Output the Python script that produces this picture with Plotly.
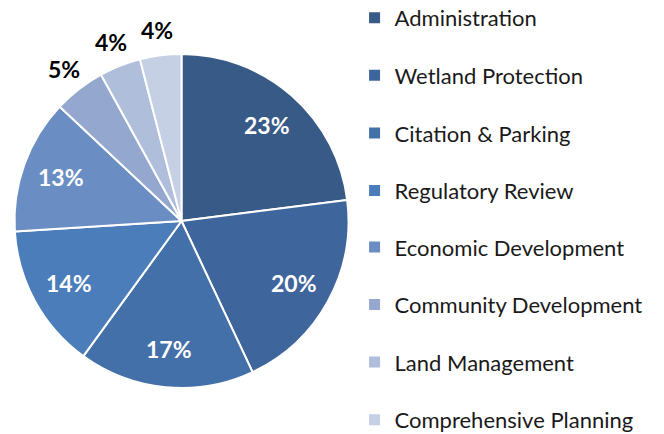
import math
import plotly.graph_objects as go

labels = ["Administration", "Wetland Protection", "Citation & Parking", "Regulatory Review",
          "Economic Development", "Community Development", "Land Management", "Comprehensive Planning"]
values = [23, 20, 17, 14, 13, 5, 4, 4]
colors = ["#385A86", "#3E659C", "#4470A9", "#4A7DBA", "#6A8EC3", "#93A7CF", "#AEBEDB", "#C6D0E5"]

W, H = 664, 434
cx, cy, R = 181.5, 221.0, 167.0

fig = go.Figure()
fig.add_trace(go.Pie(
    labels=labels, values=values, sort=False, direction="clockwise", rotation=0,
    marker=dict(colors=colors, line=dict(color="white", width=2)),
    textinfo="none", hoverinfo="label+percent", showlegend=False,
    domain=dict(x=[(cx - R) / W, (cx + R) / W], y=[1 - (cy + R) / H, 1 - (cy - R) / H]),
))

# dummy traces for legend with spacing (split across two legends)
for i, (lab, col) in enumerate(zip(labels, colors)):
    fig.add_trace(go.Scatter(x=[None], y=[None], mode="markers", name=lab, legendgroup=lab,
                             legend="legend" if i < 4 else "legend2",
                             marker=dict(symbol="square", size=11, color=col)))

total = sum(values)
cum = 0
for v in values:
    mid = (cum + v / 2) / total * 2 * math.pi
    cum += v
    inside = v >= 10
    r = R * (0.77 if inside else 1.15)
    px = cx + r * math.sin(mid)
    py = cy - r * math.cos(mid)
    fig.add_annotation(x=px / W, y=1 - py / H, xref="paper", yref="paper",
                       xanchor="center", yanchor="middle",
                       text=f"{round(v / total * 100)}%", showarrow=False,
                       font=dict(family="Lato", size=23, color="white" if inside else "black",
                                 weight="bold"))

legfont = dict(family="Lato", size=22, color="#1a1a1a")
fig.update_layout(
    width=W, height=H, margin=dict(l=0, r=0, t=0, b=0, autoexpand=False),
    paper_bgcolor="white", plot_bgcolor="white",
    xaxis=dict(visible=False), yaxis=dict(visible=False),
    legend=dict(x=0.534, y=1.007, xanchor="left", yanchor="top", traceorder="grouped",
                tracegroupgap=26, font=legfont, bgcolor="rgba(0,0,0,0)"),
    legend2=dict(x=0.534, y=0.479, xanchor="left", yanchor="top", traceorder="grouped",
                 tracegroupgap=26, font=legfont, bgcolor="rgba(0,0,0,0)"),
)
fig.write_html("out.html")
